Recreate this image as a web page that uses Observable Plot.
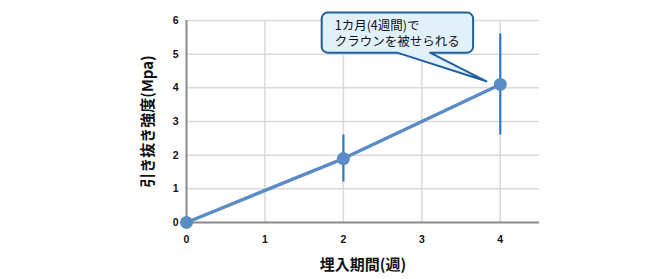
<!DOCTYPE html>
<html>
<head>
<meta charset="utf-8">
<script src="https://cdn.jsdelivr.net/npm/d3@7"></script>
<script src="https://cdn.jsdelivr.net/npm/@observablehq/plot@0.6"></script>
<style>
  html, body { margin: 0; padding: 0; background: #fff; }
  #chart { width: 666px; height: 279px; }
</style>
</head>
<body>
<div id="chart"></div>
<script>
// Pull-out strength of the implant by healing period
const weeks = [0, 2, 4];
const strength = [0, 1.9, 4.1];
const spread = [0, 0.7, 1.5];
const xTicks = [0, 1, 2, 3, 4];
const yTicks = [0, 1, 2, 3, 4, 5, 6];

const xTitle = "埋入期間(週)";
const yTitle = "引き抜き強度(Mpa)";

// Speech-bubble note (data coordinates)
const noteLines = ["1カ月(4週間)で", "クラウンを被せられる"];
const noteBoxX = [1.73, 3.66];
const noteBoxY = [5.03, 6.22];
const noteTailX = [2.69, 3.11];
const noteTip = [3.83, 4.18];

const rows = weeks.map((w, i) => ({
  week: w, value: strength[i], lo: strength[i] - spread[i], hi: strength[i] + spread[i], sd: spread[i]
}));

const lineColor = "#5a8bc5";
const barColor = "#2b7bc3";
const gridColor = "#d9d9d9";
const axisColor = "#8a8a8a";
const jp = "'Noto Sans CJK JP', 'Noto Sans', sans-serif";
const num = "'Liberation Sans', Arial, sans-serif";

function bubble(index, scales, values, dims) {
  const x = scales.x, y = scales.y;
  const x0 = x(noteBoxX[0]), x1 = x(noteBoxX[1]);
  const y0 = y(noteBoxY[1]), y1 = y(noteBoxY[0]);
  const r = 6;
  const t0 = x(noteTailX[0]), t1 = x(noteTailX[1]);
  const tx = x(noteTip[0]), ty = y(noteTip[1]);
  const p = d3.path();
  p.moveTo(x0 + r, y0);
  p.lineTo(x1 - r, y0);
  p.arcTo(x1, y0, x1, y0 + r, r);
  p.lineTo(x1, y1 - r);
  p.arcTo(x1, y1, x1 - r, y1, r);
  p.lineTo(t1, y1);
  p.lineTo(tx, ty);
  p.lineTo(t0, y1);
  p.lineTo(x0 + r, y1);
  p.arcTo(x0, y1, x0, y1 - r, r);
  p.lineTo(x0, y0 + r);
  p.arcTo(x0, y0, x0 + r, y0, r);
  p.closePath();
  const g = d3.create("svg:g");
  g.append("path")
    .attr("d", p.toString())
    .attr("fill", "#e2f0fa")
    .attr("stroke", "#1f5f9e")
    .attr("stroke-width", 2)
    .attr("stroke-linejoin", "round");
  noteLines.forEach((s, i) => {
    g.append("text")
      .attr("font-family", jp)
      .attr("font-size", 12.5)
      .attr("text-anchor", "start")
      .attr("fill", "#111")
      .attr("x", x0 + 13)
      .attr("y", y0 + 17 + i * 16)
      .text(s);
  });
  return g.node();
}

const chart = Plot.plot({
  width: 666,
  height: 279,
  marginLeft: 186,
  marginRight: 127,
  marginTop: 20,
  marginBottom: 57,
  x: { domain: [0, 4.5] },
  y: { domain: [0, 6] },
  style: { background: "#fff", overflow: "visible" },
  marks: [
    Plot.gridX(xTicks.filter(d => d > 0), { stroke: gridColor, strokeOpacity: 1, strokeWidth: 1.5 }),
    Plot.gridY(yTicks.filter(d => d > 0), { stroke: gridColor, strokeOpacity: 1, strokeWidth: 1.5 }),
    Plot.ruleX([0], { stroke: axisColor, strokeWidth: 2 }),
    Plot.ruleY([0], { stroke: axisColor, strokeWidth: 2 }),
    Plot.axisX(xTicks, {
      tickSize: 0, tickPadding: 13, fontSize: 10.5, fontWeight: "bold", fontFamily: num, fill: "#111",
      label: null
    }),
    Plot.axisY(yTicks, {
      tickSize: 0, tickPadding: 8, fontSize: 10.5, fontWeight: "bold", fontFamily: num, fill: "#111",
      label: null
    }),
    Plot.text([xTitle], {
      frameAnchor: "bottom", dy: 47, text: d => d,
      fontSize: 15, fontWeight: "bold", fontFamily: jp, fill: "#111"
    }),
    Plot.text([yTitle], {
      frameAnchor: "left", dx: -38, rotate: -90, textAnchor: "middle", text: d => d,
      fontSize: 15, fontWeight: "bold", fontFamily: jp, fill: "#111"
    }),
    Plot.ruleX(rows.filter(d => d.sd > 0), {
      x: "week", y1: "lo", y2: "hi", stroke: barColor, strokeWidth: 2.2
    }),
    Plot.line(rows, { x: "week", y: "value", stroke: lineColor, strokeWidth: 3.5 }),
    Plot.dot(rows, { x: "week", y: "value", r: 6.5, fill: lineColor, stroke: "none" }),
    bubble
  ]
});

document.getElementById("chart").appendChild(chart);
</script>
</body>
</html>
